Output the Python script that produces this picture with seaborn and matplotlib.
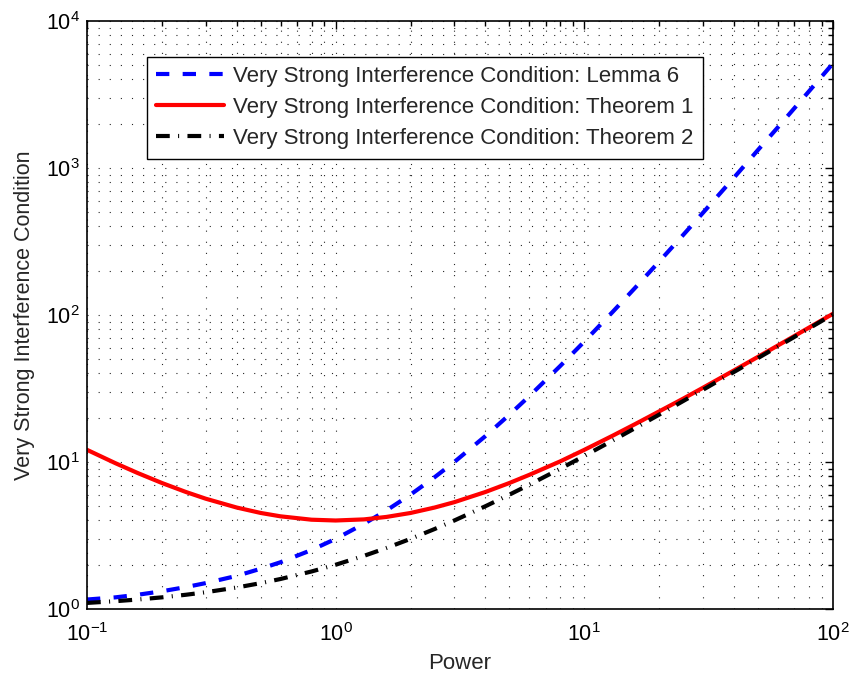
import matplotlib
matplotlib.use("Agg")
import matplotlib.pyplot as plt
import seaborn as sns
import pandas as pd
import numpy as np

# ---- data ----
power = [0.1, 0.13, 0.16, 0.2, 0.25, 0.3, 0.4, 0.5, 0.6, 0.8, 1, 1.3, 1.6, 2, 2.5, 3, 4, 5,
         6, 8, 10, 13, 16, 20, 25, 30, 40, 50, 60, 80, 100]
lemma6 = [1.16, 1.20, 1.25, 1.32, 1.41, 1.50, 1.68, 1.88, 2.08, 2.52, 3.0, 3.80, 4.68, 6.0,
          7.88, 10.0, 15.0, 21.0, 28.0, 45.0, 66.0, 105, 153, 231, 351, 496, 861, 1330,
          1890, 3320, 5150]
theorem1 = [12.1, 9.82, 8.41, 7.20, 6.25, 5.63, 4.90, 4.50, 4.27, 4.05, 4.00, 4.07, 4.23, 4.50,
            4.90, 5.33, 6.25, 7.20, 8.17, 10.1, 12.1, 15.1, 18.1, 22.1, 27.0, 32.0, 42.0, 52.0,
            62.0, 82.0, 102]
theorem2 = [1.10, 1.13, 1.16, 1.20, 1.25, 1.30, 1.40, 1.50, 1.60, 1.80, 2.00, 2.30, 2.60, 3.00,
            3.50, 4.00, 5.00, 6.00, 7.00, 9.00, 11.0, 14.0, 17.0, 21.0, 26.0, 31.0, 41.0, 51.0,
            61.0, 81.0, 101]
labels = ["Very Strong Interference Condition: Lemma 6",
          "Very Strong Interference Condition: Theorem 1",
          "Very Strong Interference Condition: Theorem 2"]
x_label = "Power"
y_label = "Very Strong Interference Condition"

sns.set_theme(style="white")
plt.rcParams["font.family"] = ["Liberation Sans", "DejaVu Sans"]
plt.rcParams["mathtext.default"] = "regular"
plt.rcParams["mathtext.fontset"] = "custom"
plt.rcParams["mathtext.rm"] = "Liberation Sans"
plt.rcParams["mathtext.it"] = "Liberation Sans"

fig = plt.figure(figsize=(8.54, 6.77), dpi=100)
ax = fig.add_axes([87 / 854, 1 - 609 / 677, (833 - 87) / 854, (609 - 21) / 677])
ax.set_xscale("log")
ax.set_yscale("log")

df = pd.DataFrame({"power": power, "l6": lemma6, "t1": theorem1, "t2": theorem2})

sns.lineplot(data=df, x="power", y="l6", ax=ax, color="#0000ff", lw=3,
             linestyle=(0, (3.2, 3.2)), label=labels[0])
sns.lineplot(data=df, x="power", y="t1", ax=ax, color="#ff0000", lw=3,
             linestyle="-", label=labels[1])
sns.lineplot(data=df, x="power", y="t2", ax=ax, color="#000000", lw=3,
             linestyle=(0, (3.3, 2.0, 0.25, 2.0)), label=labels[2])

ax.set_xlim(0.1, 100)
ax.set_ylim(1, 1e4)

ax.set_xlabel(x_label, fontsize=16, labelpad=5)
ax.set_ylabel(y_label, fontsize=15.5, labelpad=8)
ax.tick_params(axis="both", which="both", direction="in", top=True, right=True,
               labelsize=15.5, colors="black", width=1)
ax.tick_params(axis="both", which="major", length=6)
ax.tick_params(axis="x", which="major", pad=10)
ax.tick_params(axis="y", which="major", pad=5)
ax.tick_params(axis="both", which="minor", length=3.5)
ax.xaxis.set_minor_locator(matplotlib.ticker.LogLocator(base=10, subs=np.arange(2, 10)))
ax.yaxis.set_minor_locator(matplotlib.ticker.LogLocator(base=10, subs=np.arange(2, 10)))
ax.xaxis.set_minor_formatter(matplotlib.ticker.NullFormatter())
ax.yaxis.set_minor_formatter(matplotlib.ticker.NullFormatter())

ax.grid(True, which="both", color="black", linewidth=0.8, linestyle=(0, (1, 9)), alpha=0.85)
for s in ax.spines.values():
    s.set_color("black")
    s.set_linewidth(1.2)

leg = ax.legend(loc="upper left", bbox_to_anchor=(0.0804, 0.939), borderaxespad=0,
                fontsize=16, frameon=True, fancybox=False, handlelength=3.05,
                handletextpad=0.4, labelspacing=0.45, borderpad=0.42)
leg.get_frame().set_edgecolor("black")
leg.get_frame().set_linewidth(1.0)
leg.get_frame().set_alpha(1)

fig.savefig("out.png", dpi=100)
